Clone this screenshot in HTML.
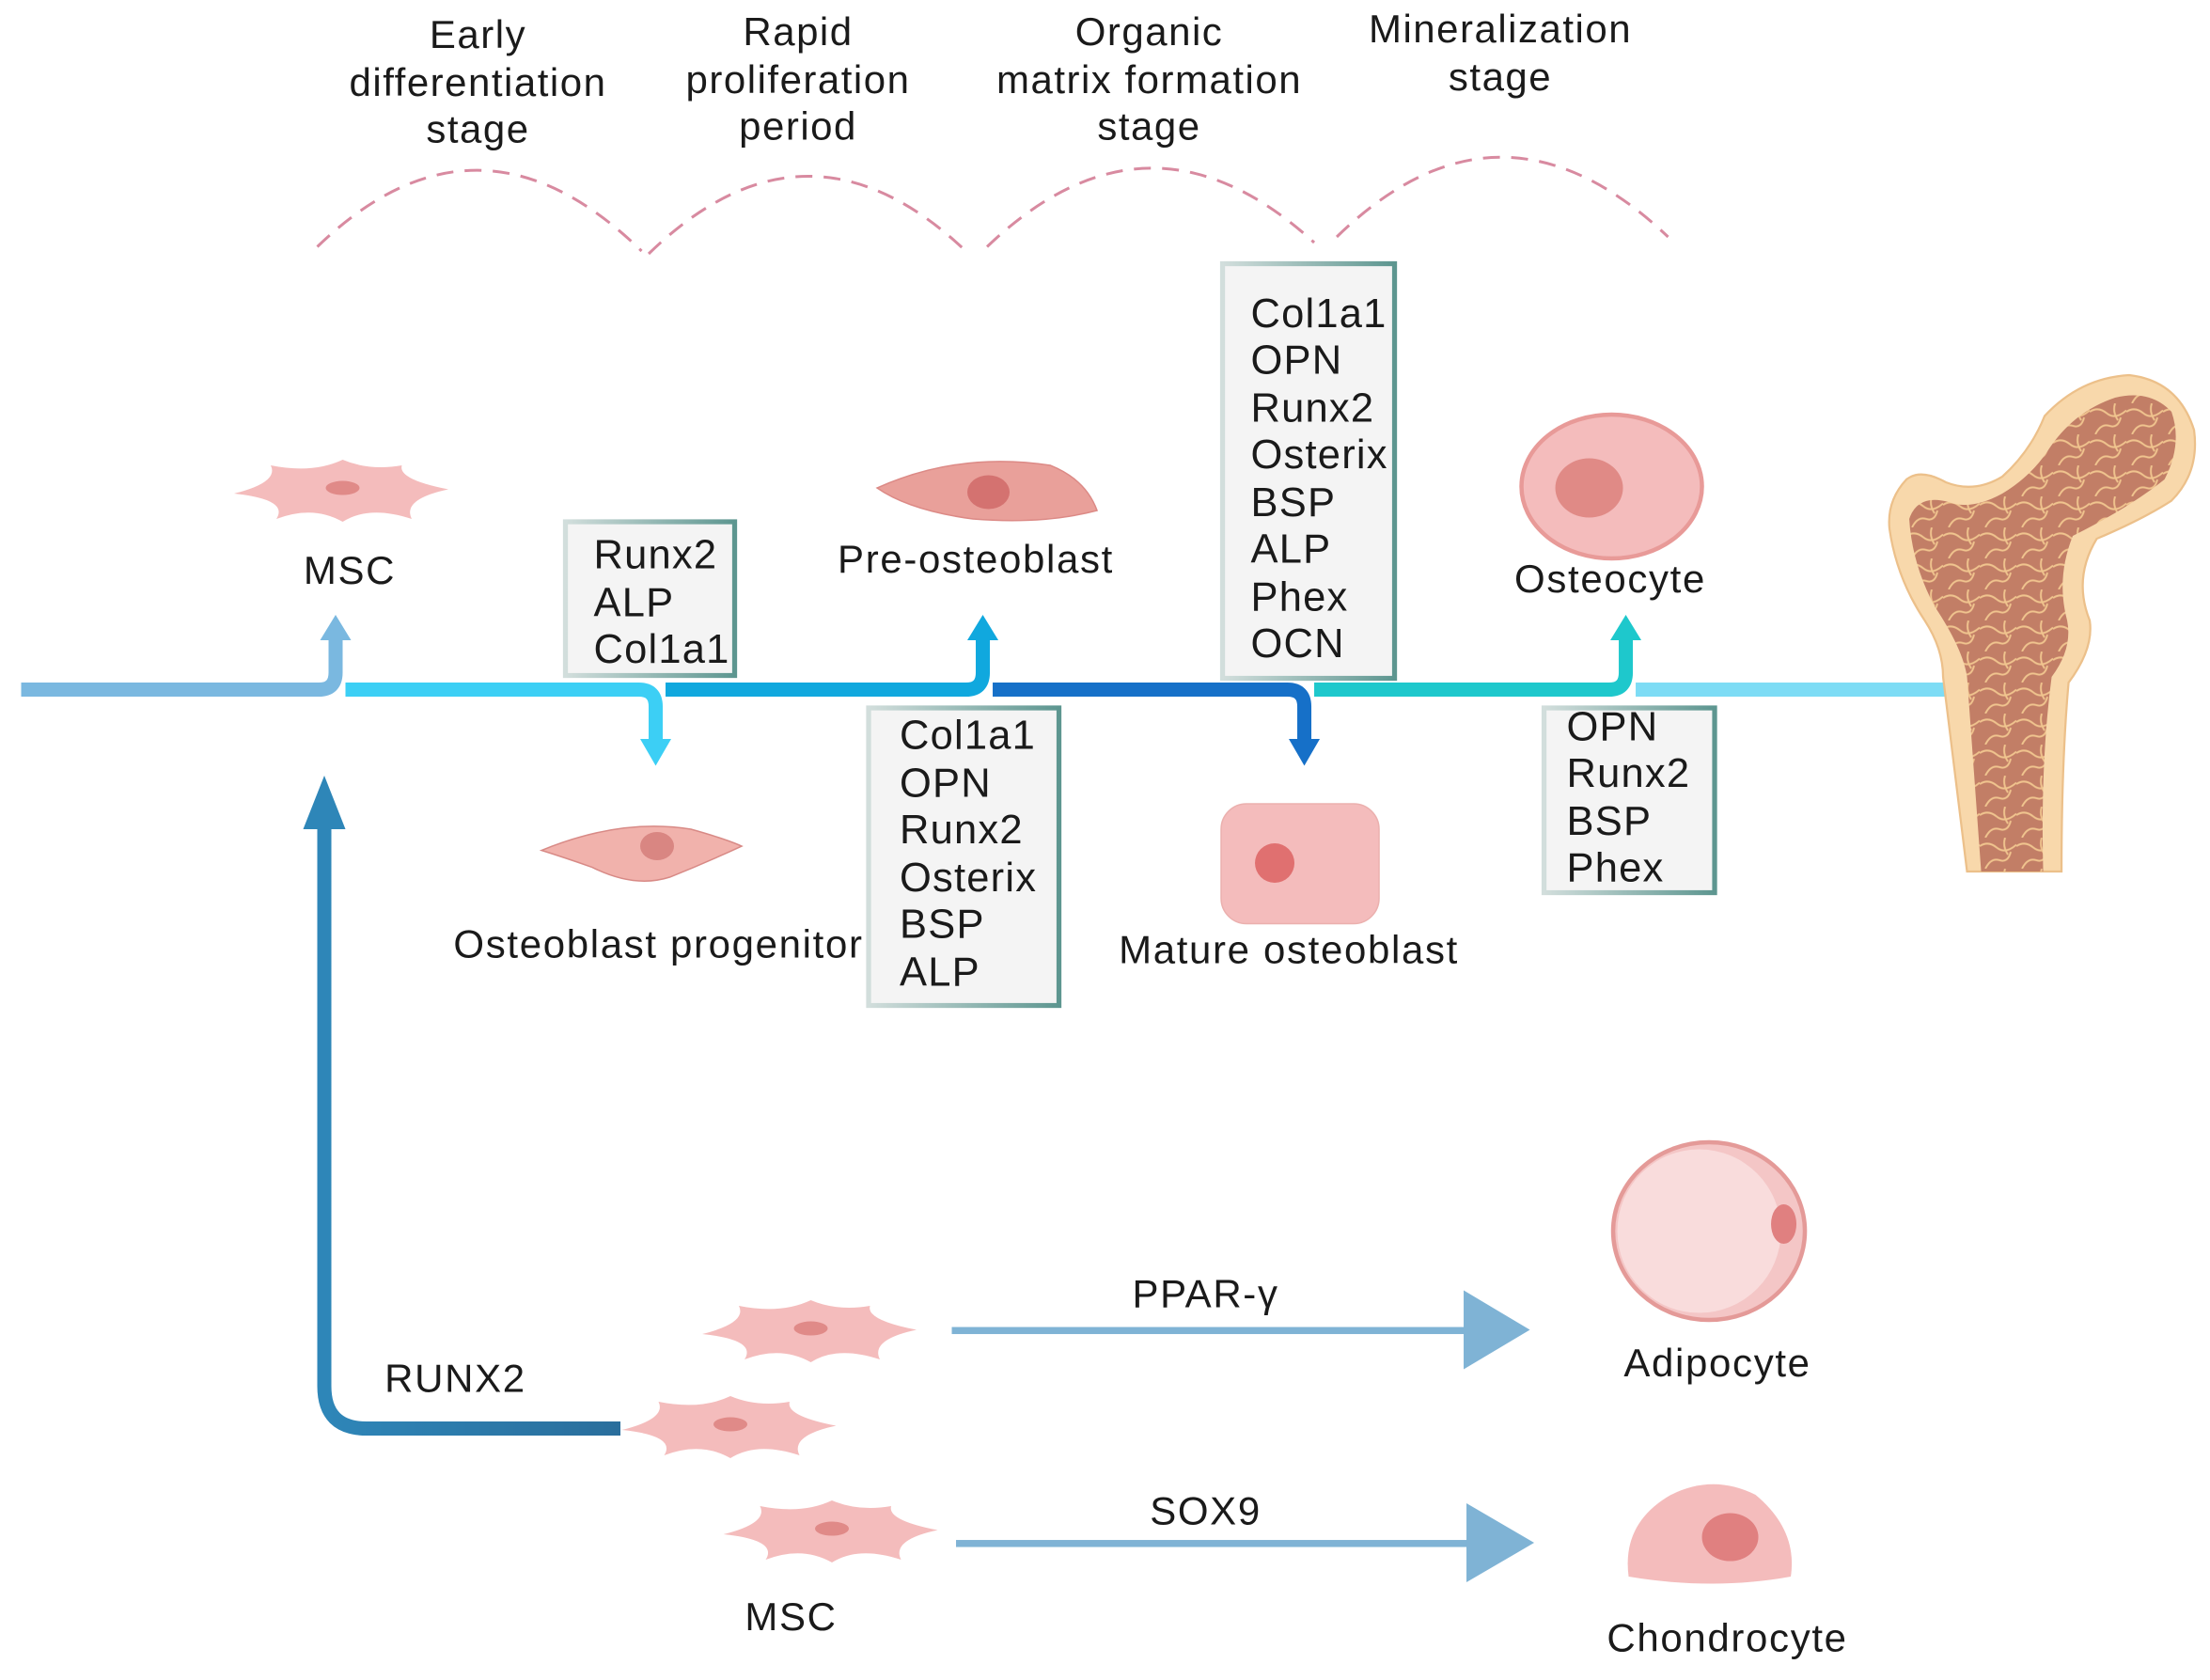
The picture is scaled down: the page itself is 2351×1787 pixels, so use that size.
<!DOCTYPE html>
<html><head><meta charset="utf-8"><style>
html,body{margin:0;padding:0;background:#fff}
svg{display:block}
text{font-family:"Liberation Sans",sans-serif;fill:#1a1a1a}
</style></head><body>
<svg width="2351" height="1787" viewBox="0 0 1567.3 1191.3" preserveAspectRatio="none" xmlns="http://www.w3.org/2000/svg">
<defs>
<linearGradient id="box" x1="0" x2="1" y1="0" y2="0">
<stop offset="0" stop-color="#d2dedc"/><stop offset="1" stop-color="#5d9690"/>
</linearGradient>
<linearGradient id="runx" x1="0" x2="1" y1="0" y2="0">
<stop offset="0" stop-color="#2e86b8"/><stop offset="1" stop-color="#2a6e9c"/>
</linearGradient>
<pattern id="spongy" width="26" height="22" patternUnits="userSpaceOnUse">
<rect width="26" height="22" fill="#c27e66"/>
<path d="M0 6 Q6 2 12 7 T26 5 M4 22 Q8 14 14 16 T22 10 M18 0 Q16 6 20 12" fill="none" stroke="#f0c48e" stroke-width="1.3"/>
</pattern>
</defs>
<g font-size="28" text-anchor="middle" letter-spacing="1">
<text x="339" y="34">Early</text><text x="339" y="68">differentiation</text><text x="339" y="101">stage</text>
<text x="566" y="32">Rapid</text><text x="566" y="66">proliferation</text><text x="566" y="99">period</text>
<text x="815" y="32">Organic</text><text x="815" y="66">matrix formation</text><text x="815" y="99">stage</text>
<text x="1064" y="30">Mineralization</text><text x="1064" y="64">stage</text>
</g>
<g fill="none" stroke="#d88aa0" stroke-width="2" stroke-dasharray="12,8">
<path d="M225 175 Q339 65 455 178"/>
<path d="M460 180 Q573 70 687 180"/>
<path d="M700 175 Q815 65 932 172"/>
<path d="M948 168 Q1064 55 1183 168"/>
</g>
<!-- main line -->
<rect x="1160" y="484" width="222" height="10" fill="#7ddcf5"/>
<g fill="none" stroke-width="10">
<path d="M15 489 L226 489 Q238 489 238 477 L238 452" stroke="#7ab8e0"/>
<path d="M245 489 L453 489 Q465 489 465 501 L465 526" stroke="#3ccff5"/>
<path d="M472 489 L685 489 Q697 489 697 477 L697 452" stroke="#10a8de"/>
<path d="M704 489 L913 489 Q925 489 925 501 L925 526" stroke="#1670c8"/>
<path d="M932 489 L1141 489 Q1153 489 1153 477 L1153 452" stroke="#1ec8cc"/>
</g>
<polygon points="227,454 249,454 238,436" fill="#7ab8e0"/>
<polygon points="454,524 476,524 465,543" fill="#3ccff5"/>
<polygon points="686,454 708,454 697,436" fill="#10a8de"/>
<polygon points="914,524 936,524 925,543" fill="#1670c8"/>
<polygon points="1142,454 1164,454 1153,436" fill="#1ec8cc"/>
<!-- bone -->
<path d="M1395 618 L1462 618 Q1462 540 1467 484 Q1485 460 1482 440 Q1470 410 1487 382 Q1520 368 1540 355 Q1560 335 1556 305 Q1545 270 1510 266 Q1475 268 1450 295 Q1440 320 1420 338 Q1400 350 1380 342 Q1362 332 1352 340 Q1338 355 1340 375 Q1345 410 1365 440 Q1378 460 1378 480 Z" fill="#f8d8ab" stroke="#ecc08a" stroke-width="1.5"/>
<path d="M1405 618 L1449 618 Q1447 540 1455 480 Q1470 460 1466 440 Q1458 410 1470 380 Q1510 360 1535 340 Q1548 315 1540 292 Q1525 276 1500 282 Q1470 292 1452 320 Q1440 338 1420 350 Q1398 362 1382 356 Q1360 350 1354 368 Q1356 400 1372 430 Q1392 460 1395 480 Z" fill="url(#spongy)"/>
<!-- boxes -->
<g fill="#f4f4f4" stroke="url(#box)" stroke-width="3.5">
<rect x="401" y="370" width="120" height="109"/>
<rect x="616" y="502" width="135" height="211"/>
<rect x="867" y="187" width="122" height="294"/>
<rect x="1095" y="502" width="121" height="131"/>
</g>
<g font-size="29" letter-spacing="0.8">
<text x="421" y="403">Runx2</text><text x="421" y="437">ALP</text><text x="421" y="470">Col1a1</text>
<text x="638" y="531">Col1a1</text><text x="638" y="565">OPN</text><text x="638" y="598">Runx2</text><text x="638" y="632">Osterix</text><text x="638" y="665">BSP</text><text x="638" y="699">ALP</text>
<text x="887" y="232">Col1a1</text><text x="887" y="265">OPN</text><text x="887" y="299">Runx2</text><text x="887" y="332">Osterix</text><text x="887" y="366">BSP</text><text x="887" y="399">ALP</text><text x="887" y="433">Phex</text><text x="887" y="466">OCN</text>
<text x="1111" y="525">OPN</text><text x="1111" y="558">Runx2</text><text x="1111" y="592">BSP</text><text x="1111" y="625">Phex</text>
</g>
<!-- cells -->
<g id="msc">
<path d="M243 326 Q262 334 285 330 Q282 340 318 347 Q285 354 292 368 Q262 358 243 370 Q222 358 196 368 Q205 354 166 350 Q198 342 192 330 Q222 336 243 326 Z" fill="#f4bcbc"/>
<ellipse cx="243" cy="346" rx="12" ry="5" fill="#e08a88"/>
</g>
<path d="M622 346 Q680 320 745 330 Q770 340 778 362 Q740 372 690 368 Q645 362 622 346 Z" fill="#e9a09a" stroke="#dc8a86"/>
<ellipse cx="701" cy="349" rx="15" ry="12" fill="#d47270"/>
<path d="M384 603 Q440 580 490 588 Q515 595 526 600 Q500 612 475 622 Q450 630 420 615 Q400 608 384 603 Z" fill="#f1b2ac" stroke="#d88a86"/>
<ellipse cx="466" cy="600" rx="12" ry="10" fill="#d98682"/>
<ellipse cx="1143" cy="345" rx="64" ry="51" fill="#f4bcbc" stroke="#e89a98" stroke-width="3"/>
<ellipse cx="1127" cy="346" rx="24" ry="21" fill="#e08a86"/>
<rect x="866" y="570" width="112" height="85" rx="18" fill="#f4bcbc" stroke="#ebb0ae"/>
<circle cx="904" cy="612" r="14" fill="#e07070"/>
<ellipse cx="1212" cy="873" rx="68" ry="63" fill="#f4c6c6" stroke="#e49a98" stroke-width="3"/>
<ellipse cx="1205" cy="873" rx="58" ry="58" fill="#f9dcdc"/>
<ellipse cx="1265" cy="868" rx="9" ry="14" fill="#e08080"/>
<path d="M1155 1118 Q1150 1080 1185 1060 Q1215 1045 1245 1060 Q1275 1085 1270 1118 Q1215 1128 1155 1118 Z" fill="#f4bcbc"/>
<ellipse cx="1227" cy="1090" rx="20" ry="17" fill="#e08080"/>
<use href="#msc" transform="translate(332,596)"/>
<use href="#msc" transform="translate(275,664)"/>
<use href="#msc" transform="translate(347,738)"/>
<g font-size="28" text-anchor="middle" letter-spacing="1.1">
<text x="248" y="414">MSC</text>
<text x="692" y="406">Pre-osteoblast</text>
<text x="1142" y="420">Osteocyte</text>
<text x="467" y="679">Osteoblast progenitor</text>
<text x="914" y="683">Mature osteoblast</text>
<text x="323" y="987">RUNX2</text>
<text x="855" y="927">PPAR-γ</text>
<text x="855" y="1081">SOX9</text>
<text x="1218" y="976">Adipocyte</text>
<text x="1225" y="1171">Chondrocyte</text>
<text x="561" y="1156">MSC</text>
</g>
<!-- RUNX2 arrow -->
<path d="M440 1013 L260 1013 Q230 1013 230 983 L230 585" fill="none" stroke="url(#runx)" stroke-width="10"/>
<polygon points="215,588 245,588 230,550" fill="#2e86b8"/>
<!-- PPAR / SOX9 arrows -->
<rect x="675" y="941" width="370" height="5" fill="#7fb3d5"/>
<polygon points="1038,915 1085,943 1038,971" fill="#7fb3d5"/>
<rect x="678" y="1092" width="370" height="5" fill="#7fb3d5"/>
<polygon points="1040,1066 1088,1094 1040,1122" fill="#7fb3d5"/>
</svg>
</body></html>
